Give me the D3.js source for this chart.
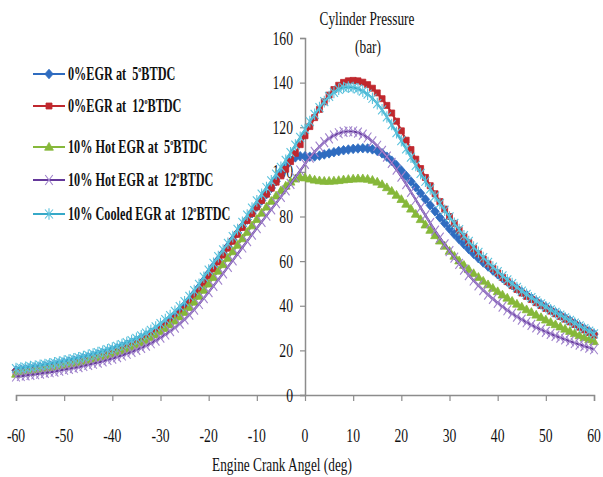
<!DOCTYPE html>
<html lang="en">

<head>
    <meta charset="UTF-8">
    <title>Cylinder Pressure vs Engine Crank Angle</title>
    <script src="https://cdn.jsdelivr.net/npm/d3@7"></script>
    <style>
        html,
        body {
            margin: 0;
            padding: 0;
            background: #fff;
        }

        text {
            font-family: "Liberation Serif", "Times New Roman", serif;
            fill: #111;
            white-space: pre;
        }
    </style>
</head>

<body>
    <div id="chart"></div>
    <script>
        // Crank angle categories (deg), one point per degree
        const angles = d3.range(-60, 61);

        const xTicks = [-60, -50, -40, -30, -20, -10, 0, 10, 20, 30, 40, 50, 60];
        const yTicks = [0, 20, 40, 60, 80, 100, 120, 140, 160];

        // 0%EGR at 5 BTDC
        const egr0at5 = [
            11.0, 11.3, 11.6, 11.9, 12.2, 12.5, 12.9, 13.2, 13.6, 14.0,
            14.4, 14.9, 15.4, 15.9, 16.4, 16.9, 17.5, 18.1, 18.7, 19.4,
            20.1, 20.9, 21.7, 22.6, 23.5, 24.5, 25.6, 26.7, 27.9, 29.2,
            30.7, 32.3, 34.0, 35.9, 37.9, 40.1, 42.6, 45.3, 48.2, 51.3,
            54.5, 57.6, 60.6, 63.6, 66.6, 69.6, 72.6, 75.6, 78.6, 81.5,
            84.4, 87.2, 90.0, 92.8, 95.8, 99.2, 102.6, 105.2, 106.5, 107.0,
            107.0, 106.8, 106.9, 107.3, 107.8, 108.3, 108.8, 109.3, 109.7, 110.0,
            110.3, 110.5, 110.6, 110.5, 110.1, 109.4, 108.3, 106.8, 105.0, 102.9,
            100.6, 98.2, 95.7, 93.1, 90.4, 87.7, 85.0, 82.3, 79.6, 77.0,
            74.5, 72.1, 69.8, 67.6, 65.4, 63.3, 61.3, 59.4, 57.6, 55.8,
            54.1, 52.4, 50.8, 49.2, 47.7, 46.2, 44.8, 43.4, 42.0, 40.7,
            39.4, 38.1, 36.9, 35.7, 34.5, 33.3, 32.1, 30.9, 29.7, 28.5,
            27.3
        ];

        // 0%EGR at 12 BTDC
        const egr0at12 = [
            10.2, 10.5, 10.8, 11.1, 11.4, 11.7, 12.0, 12.4, 12.8, 13.2,
            13.6, 14.0, 14.5, 15.0, 15.5, 16.0, 16.6, 17.2, 17.8, 18.5,
            19.2, 20.0, 20.8, 21.6, 22.5, 23.5, 24.5, 25.6, 26.8, 28.1,
            29.5, 31.0, 32.6, 34.4, 36.3, 38.4, 41.5, 44.2, 47.2, 50.3,
            53.4, 56.5, 59.6, 62.7, 65.8, 68.9, 72.0, 75.1, 78.2, 81.3,
            84.3, 87.2, 90.0, 92.7, 95.4, 98.2, 101.2, 104.6, 108.3, 112.2,
            116.2, 120.3, 124.3, 128.0, 131.4, 134.4, 136.9, 138.8, 140.1, 140.8,
            141.0, 140.8, 140.2, 139.1, 137.5, 135.4, 132.8, 129.8, 126.4, 122.7,
            118.4, 114.2, 110.0, 105.7, 101.5, 97.5, 93.8, 90.2, 86.7, 83.3,
            80.0, 76.9, 73.9, 71.0, 68.3, 65.7, 63.3, 61.0, 58.8, 56.7,
            54.7, 52.7, 50.8, 49.0, 47.3, 45.7, 44.2, 42.8, 41.4, 40.1,
            38.8, 37.6, 36.4, 35.2, 34.0, 32.8, 31.6, 30.4, 29.2, 28.0,
            26.8
        ];

        // 10% Hot EGR at 5 BTDC
        const hotEgrAt5 = [
            9.4, 9.7, 10.0, 10.3, 10.6, 10.9, 11.2, 11.6, 12.0, 12.4,
            12.8, 13.2, 13.7, 14.2, 14.7, 15.2, 15.7, 16.3, 16.9, 17.5,
            18.2, 18.9, 19.7, 20.5, 21.4, 22.4, 23.4, 24.5, 25.7, 27.0,
            28.4, 29.9, 31.5, 33.2, 35.1, 37.1, 39.3, 41.7, 44.3, 47.0,
            49.8, 52.7, 55.6, 58.5, 61.4, 64.3, 67.2, 70.1, 73.0, 75.9,
            78.8, 81.6, 84.3, 86.9, 89.3, 91.6, 93.7, 95.5, 96.9, 97.6,
            97.4, 96.9, 96.4, 96.1, 95.9, 95.9, 96.0, 96.2, 96.5, 96.7,
            96.9, 97.0, 97.0, 96.8, 96.3, 95.5, 94.4, 93.0, 91.4, 89.6,
            87.7, 85.6, 83.4, 81.1, 78.7, 76.3, 73.9, 71.5, 69.1, 66.8,
            64.5, 62.3, 60.2, 58.2, 56.3, 54.5, 52.8, 51.1, 49.5, 47.9,
            46.4, 44.9, 43.5, 42.1, 40.8, 39.5, 38.3, 37.1, 35.9, 34.8,
            33.7, 32.6, 31.6, 30.6, 29.6, 28.6, 27.6, 26.7, 25.8, 24.9,
            24.0
        ];

        // 10% Hot EGR at 12 BTDC
        const hotEgrAt12 = [
            8.3, 8.5, 8.8, 9.0, 9.3, 9.6, 9.9, 10.2, 10.5, 10.9,
            11.3, 11.7, 12.1, 12.5, 13.0, 13.5, 14.0, 14.5, 15.1, 15.7,
            16.3, 17.0, 17.7, 18.5, 19.3, 20.2, 21.1, 22.1, 23.2, 24.4,
            25.7, 27.1, 28.6, 30.2, 32.0, 33.9, 36.0, 38.3, 40.8, 43.4,
            46.1, 48.9, 51.7, 54.5, 57.4, 60.3, 63.2, 66.1, 69.0, 71.9,
            74.8, 77.6, 80.4, 83.2, 86.0, 88.8, 91.7, 94.6, 97.6, 100.6,
            103.6, 106.4, 109.0, 111.3, 113.3, 115.0, 116.3, 117.3, 117.9, 118.2,
            118.1, 117.6, 116.7, 115.4, 113.7, 111.7, 109.4, 106.8, 104.0, 101.0,
            97.9, 94.5, 91.0, 87.5, 84.0, 80.5, 77.0, 73.7, 70.5, 67.5,
            64.5, 61.6, 58.8, 56.2, 53.7, 51.3, 49.1, 47.0, 45.0, 43.1,
            41.3, 39.6, 38.0, 36.5, 35.1, 33.8, 32.6, 31.4, 30.3, 29.3,
            28.3, 27.4, 26.5, 25.7, 24.9, 24.1, 23.3, 22.6, 21.9, 21.2,
            20.5
        ];

        // 10% Cooled EGR at 12 BTDC
        const cooledEgrAt12 = [
            11.8, 12.1, 12.4, 12.7, 13.0, 13.3, 13.7, 14.0, 14.4, 14.8,
            15.2, 15.7, 16.2, 16.7, 17.2, 17.8, 18.4, 19.0, 19.6, 20.3,
            21.0, 21.8, 22.6, 23.5, 24.4, 25.4, 26.5, 27.7, 29.0, 30.5,
            32.0, 33.8, 35.6, 37.5, 39.6, 41.8, 44.2, 46.8, 49.6, 52.8,
            56.0, 59.0, 62.0, 65.0, 68.0, 71.0, 74.2, 77.4, 80.6, 83.8,
            87.0, 90.0, 93.0, 96.0, 99.0, 102.0, 105.2, 108.6, 112.0, 115.5,
            119.0, 122.5, 125.8, 128.8, 131.5, 133.8, 135.6, 137.0, 137.8, 138.0,
            137.8, 137.2, 136.2, 134.8, 133.0, 130.6, 127.8, 124.6, 121.2, 117.6,
            114.0, 110.3, 106.6, 102.9, 99.3, 95.8, 92.4, 89.1, 85.9, 82.8,
            79.8, 76.9, 74.1, 71.4, 68.8, 66.3, 63.9, 61.6, 59.4, 57.3,
            55.3, 53.4, 51.6, 49.9, 48.2, 46.6, 45.1, 43.6, 42.2, 40.8,
            39.5, 38.2, 37.0, 35.8, 34.6, 33.4, 32.2, 31.0, 29.8, 28.6,
            27.4
        ];

        const seriesNames = [
            ['0%EGR at  ', '5', 'BTDC'],
            ['0%EGR at  ', '12', 'BTDC'],
            ['10% Hot EGR at  ', '5', 'BTDC'],
            ['10% Hot EGR at  ', '12', 'BTDC'],
            ['10% Cooled EGR at  ', '12', 'BTDC']
        ];

        // marker shapes (Excel style)
        const markers = {
            diamond: 'M0,-4.8L4.2,0L0,4.8L-4.2,0Z',
            square: 'M-3,-3H3V3H-3Z',
            triangle: 'M0,-4.6L4.4,3.2L-4.4,3.2Z',
            cross: 'M-3.8,-5L3.8,5M-3.8,5L3.8,-5',
            star: 'M-4,-4.5L4,4.5M-4,4.5L4,-4.5M0,-5.8V5.8'
        };

        const series = [
            { values: egr0at5, line: '#2f6cc0', mark: '#2f6cc0', shape: 'diamond', filled: true },
            { values: egr0at12, line: '#c0282e', mark: '#c0282e', shape: 'square', filled: true },
            { values: hotEgrAt5, line: '#86b83a', mark: '#86b83a', shape: 'triangle', filled: true },
            { values: hotEgrAt12, line: '#64389a', mark: '#a083cc', shape: 'cross', filled: false },
            { values: cooledEgrAt12, line: '#36a9c8', mark: '#5cc2dc', shape: 'star', filled: false }
        ];

        const width = 603;
        const height = 477;
        const sx = 0.72; // the original font is strongly squeezed horizontally

        const svg = d3.select('#chart').append('svg')
            .attr('width', width)
            .attr('height', height);

        const x = d3.scaleLinear().domain([-60, 60]).range([16, 594]);
        const y = d3.scaleLinear().domain([0, 160]).range([395, 38]);

        function label(g, px, py, txt, anchor, size, weight, squeeze) {
            return g.append('text')
                .attr('transform', `translate(${px},${py}) scale(${squeeze || sx},1)`)
                .attr('text-anchor', anchor)
                .style('font-size', size + 'px')
                .style('font-weight', weight || 'normal')
                .text(txt);
        }

        // x axis
        const xAxis = svg.append('g')
            .attr('transform', `translate(0,${y(0)})`)
            .call(d3.axisBottom(x).tickValues(xTicks).tickSize(6).tickFormat(''));
        xAxis.select('.domain').attr('stroke', '#8c8c8c').attr('stroke-width', 1.5);
        xAxis.selectAll('.tick line').attr('stroke', '#8c8c8c').attr('stroke-width', 1.2);

        xTicks.forEach(t => label(svg, x(t), 442, String(t), 'middle', 19));

        // y axis at crank angle 0
        const yAxis = svg.append('g')
            .attr('transform', `translate(${x(0)},0)`)
            .call(d3.axisLeft(y).tickValues(yTicks).tickSize(5).tickFormat(''));
        yAxis.select('.domain').attr('stroke', '#8c8c8c').attr('stroke-width', 1.5);
        yAxis.selectAll('.tick line').attr('stroke', '#8c8c8c').attr('stroke-width', 1.2);

        yTicks.forEach(t => label(svg, x(0) - 12, y(t) + 6.5, String(t), 'end', 19));

        // axis titles
        label(svg, 367, 25, 'Cylinder Pressure', 'middle', 19, 'normal', 0.7);
        label(svg, 368, 53, '(bar)', 'middle', 19, 'normal', 0.7);
        label(svg, 282, 471, 'Engine Crank Angel (deg)', 'middle', 19, 'normal', 0.7);

        // series
        const line = d3.line()
            .x((d, i) => x(angles[i]))
            .y(d => y(d));

        const plot = svg.append('g');

        function drawMarker(g, s, px, py) {
            g.append('path')
                .attr('d', markers[s.shape])
                .attr('transform', `translate(${px},${py})`)
                .attr('fill', s.filled ? s.mark : 'none')
                .attr('stroke', s.mark)
                .attr('stroke-width', s.filled ? 0.8 : 1.1);
        }

        series.forEach(s => {
            const g = plot.append('g');
            g.append('path')
                .datum(s.values)
                .attr('d', line)
                .attr('fill', 'none')
                .attr('stroke', s.line)
                .attr('stroke-width', 2.2);
            s.values.forEach((v, i) => drawMarker(g, s, x(angles[i]), y(v)));
        });

        // legend
        const legendRows = [74, 106, 147, 180, 214];
        const legend = svg.append('g');

        series.forEach((s, i) => {
            const ly = legendRows[i];
            legend.append('line')
                .attr('x1', 33).attr('x2', 65)
                .attr('y1', ly).attr('y2', ly)
                .attr('stroke', s.line)
                .attr('stroke-width', 2);
            drawMarker(legend, s, 49, ly);

            const parts = seriesNames[i];
            const t = legend.append('text')
                .attr('transform', `translate(68,${ly + 6}) scale(0.68,1)`)
                .style('font-size', '18px')
                .style('font-weight', 'bold');
            t.append('tspan').text(parts[0] + parts[1]);
            t.append('tspan').attr('dy', -8).style('font-size', '9px').text('o');
            t.append('tspan').attr('dy', 8).text(parts[2]);
        });
    </script>
</body>

</html>
